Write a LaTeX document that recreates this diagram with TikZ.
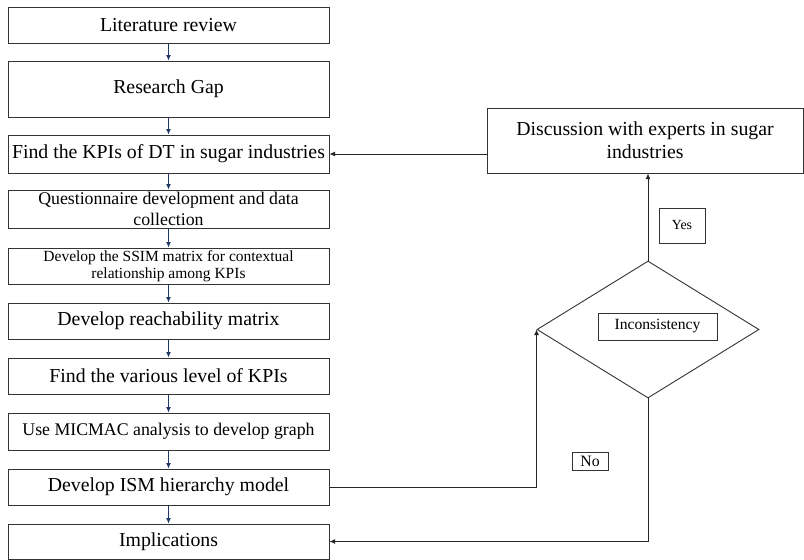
\documentclass[tikz,border=0pt]{standalone}
\usepackage{fontspec}
\setmainfont{Liberation Serif}
\usetikzlibrary{shapes.geometric,arrows.meta}
\definecolor{navy}{HTML}{1F3864}
\begin{document}
\begin{tikzpicture}[x=1pt,y=-1pt,
  stepbox/.style={draw=black!80,line width=1pt,minimum width=321pt,inner sep=0pt,align=center,anchor=center},
  lbl/.style={draw=black!80,line width=0.9pt,inner sep=0pt,anchor=center},
  navyarrow/.style={draw=navy,line width=1pt,-{Latex[length=5.5pt,width=5pt]}},
  blackarrow/.style={draw=black!85,line width=0.9pt,-{Latex[length=5.5pt,width=5pt]}},
  f20/.style={font=\fontsize{19.8}{23}\selectfont},
  f18/.style={font=\fontsize{17.8}{21}\selectfont},
  f15/.style={font=\fontsize{15.5}{17}\selectfont}]
\useasboundingbox (0,0) rectangle (804,560);
\node[stepbox,f20,minimum height=36pt] (b1) at (168.5,25) {Literature review};
\node[stepbox,f20,minimum height=56pt] (b2) at (168.5,89) {Research Gap};
\node[stepbox,f20,minimum height=38pt] (b3) at (168.5,154) {Find the KPIs of DT in sugar industries};
\node[stepbox,f18,minimum height=38pt] (b4) at (168.5,209) {Questionnaire development and data\\collection};
\node[stepbox,f15,minimum height=36pt] (b5) at (168.5,266) {Develop the SSIM matrix for contextual\\relationship among KPIs};
\node[stepbox,f20,minimum height=36pt] (b6) at (168.5,321) {Develop reachability matrix};
\node[stepbox,f20,minimum height=36pt] (b7) at (168.5,376) {Find the various level of KPIs};
\node[stepbox,f18,minimum height=37pt] (b8) at (168.5,431.5) {Use MICMAC analysis to develop graph};
\node[stepbox,f20,minimum height=36pt] (b9) at (168.5,487) {Develop ISM hierarchy model};
\node[stepbox,f20,minimum height=35pt] (b10) at (168.5,541.5) {Implications};
\node[stepbox,f20,minimum width=316pt,minimum height=65pt] (disc) at (645,140.5) {Discussion with experts in sugar\\industries};
\node[draw=black!80,line width=0.9pt,diamond,minimum width=222pt,minimum height=137pt,inner sep=0pt] (dia) at (648,329.5) {};
\node[lbl,minimum width=119pt,minimum height=27pt,font=\fontsize{15.6}{18}\selectfont] (inc) at (657.5,326.5) {Inconsistency};
\node[lbl,minimum width=46pt,minimum height=35pt,font=\fontsize{13.9}{16}\selectfont] (yes) at (682,225.5) {Yes};
\node[lbl,minimum width=36pt,minimum height=18pt,font=\fontsize{15.8}{18}\selectfont] (no) at (590,461) {No};
\foreach \a/\b in {b1/b2,b2/b3,b3/b4,b4/b5,b5/b6,b6/b7,b7/b8,b8/b9,b9/b10}
  \draw[navyarrow] (\a.south) -- (\b.north);
\draw[blackarrow] (disc.west |- b3.east) -- (b3.east);
\draw[blackarrow] (dia.north) -- (dia.north |- disc.south);
\draw[blackarrow] (b9.east) -| (dia.west);
\draw[blackarrow] (dia.south) |- (b10.east);
\end{tikzpicture}
\end{document}
